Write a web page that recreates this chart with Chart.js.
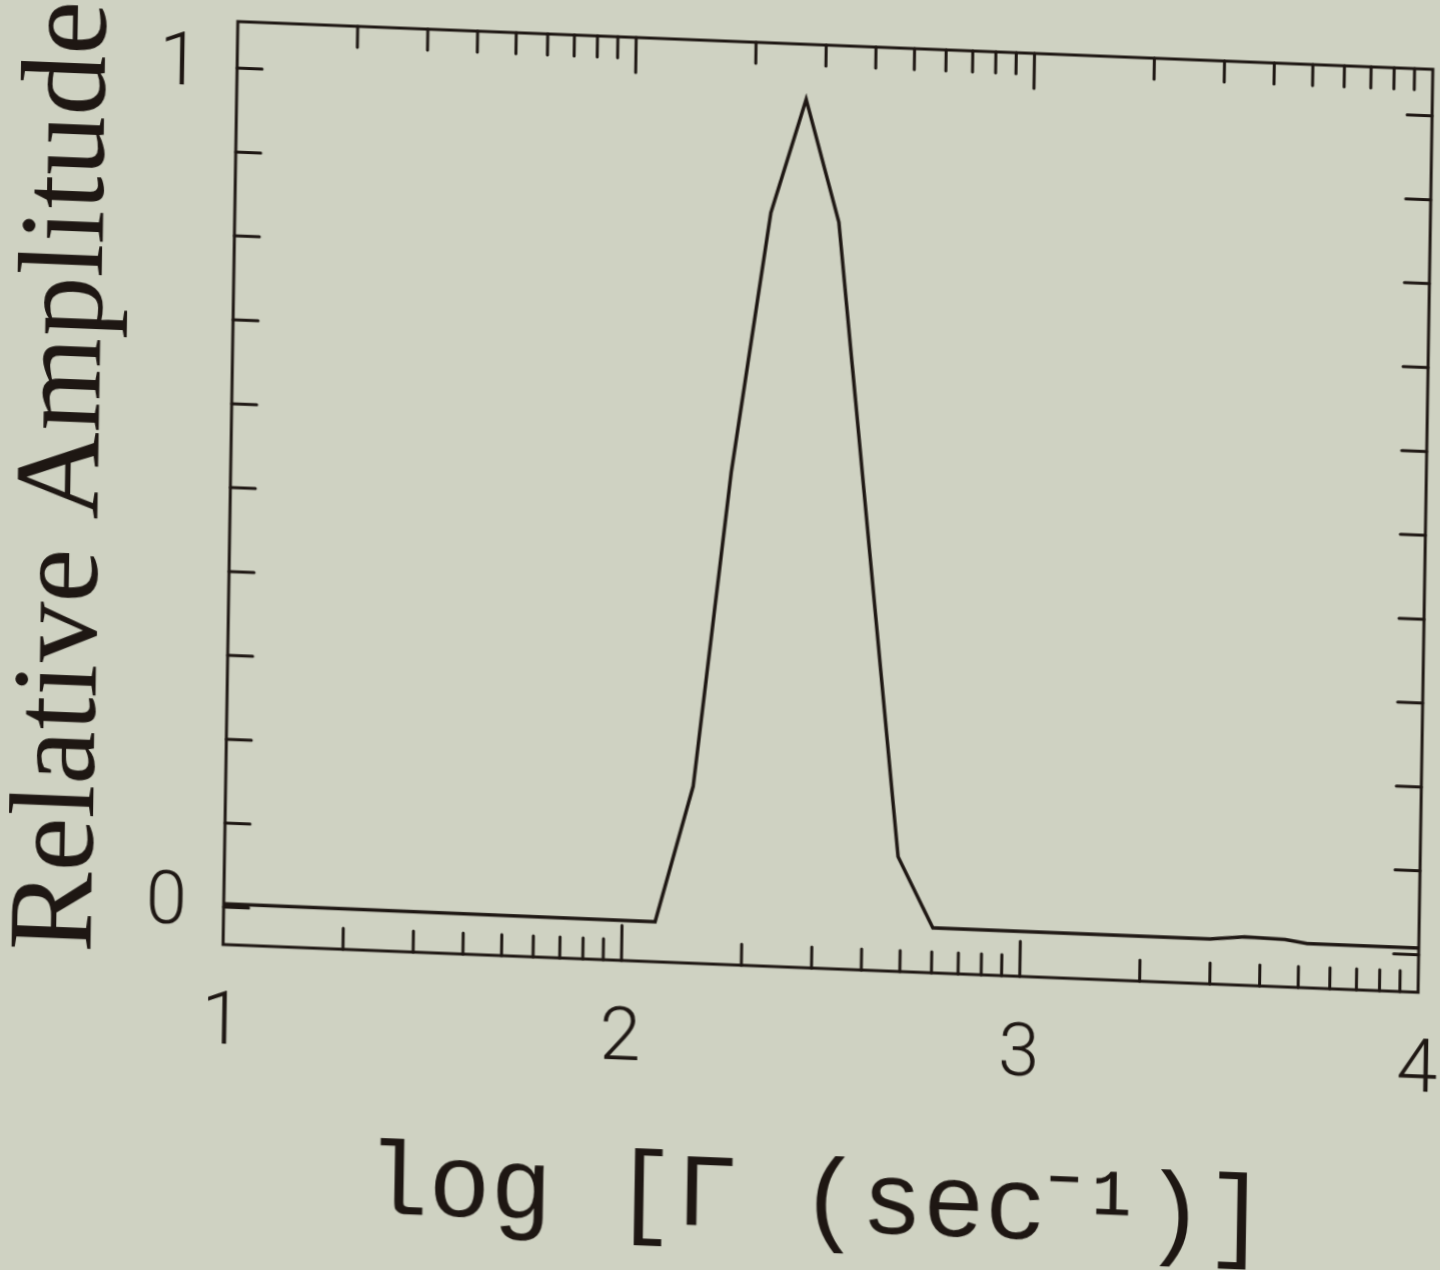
<!DOCTYPE html>
<html>
<head>
<meta charset="utf-8">
<script src="https://cdn.jsdelivr.net/npm/chart.js@4.4.1/dist/chart.umd.min.js"></script>
<style>
    html, body { margin: 0; padding: 0; width: 1440px; height: 1270px; overflow: hidden; background: #cfd2c2; }
    /* the scanned figure is slightly skewed, so tilt the whole canvas a little */
    #wrap { position: absolute; left: 0; top: 0; width: 1480px; height: 1270px;
            transform-origin: 0 0; transform: matrix(1, 0.04, -0.016, 1, 0, 0); }
</style>
</head>
<body>
<div id="wrap"><canvas id="myChart" width="1480" height="1270"></canvas></div>
<script>
const INK = '#1e1713';

// data
const logGamma  = [1.0,   2.083, 2.173, 2.256, 2.345, 2.429, 2.516, 2.690, 2.780, 3.476, 3.562, 3.664, 3.720, 4.0];
const amplitude = [0.004, 0.003, 0.166, 0.542, 0.853, 0.990, 0.845, 0.092, 0.009, 0.009, 0.013, 0.012, 0.008, 0.008];

// axes
const xMajorTicks = [1, 2, 3, 4];
const xMinorMultipliers = [2, 3, 4, 5, 6, 7, 8, 9];
const yTickValues = [0, 0.1, 0.2, 0.3, 0.4, 0.5, 0.6, 0.7, 0.8, 0.9, 1];
const yTickLabels = { 0: '0', 1: '1' };

const xMinorTicks = [];
[1, 2, 3].forEach(d => xMinorMultipliers.forEach(k => xMinorTicks.push(d + Math.log10(k))));

// frame + inward tick marks on all four sides
const frameTicks = {
    id: 'frameTicks',
    afterDatasetsDraw(chart) {
        const { ctx, chartArea: a, scales: { x, y } } = chart;
        ctx.save();
        ctx.strokeStyle = INK;
        ctx.lineWidth = 3;
        ctx.lineCap = 'round';
        ctx.strokeRect(a.left, a.top, a.right - a.left, a.bottom - a.top);
        ctx.beginPath();
        xMinorTicks.forEach(v => {
            const px = x.getPixelForValue(v);
            ctx.moveTo(px, a.bottom); ctx.lineTo(px, a.bottom - 21);
            ctx.moveTo(px, a.top);    ctx.lineTo(px, a.top + 21);
        });
        xMajorTicks.slice(1, -1).forEach(v => {
            const px = x.getPixelForValue(v);
            ctx.moveTo(px, a.bottom); ctx.lineTo(px, a.bottom - 35);
            ctx.moveTo(px, a.top);    ctx.lineTo(px, a.top + 35);
        });
        yTickValues.forEach(v => {
            const py = y.getPixelForValue(v);
            ctx.moveTo(a.left, py);  ctx.lineTo(a.left + 25, py);
            ctx.moveTo(a.right, py); ctx.lineTo(a.right - 25, py);
        });
        ctx.stroke();
        ctx.restore();
    }
};

const ctx = document.getElementById('myChart').getContext('2d');
const myChart = new Chart(ctx, {
    type: 'line',
    data: {
        datasets: [{
            data: logGamma.map((g, i) => ({ x: g, y: amplitude[i] })),
            borderColor: INK,
            borderWidth: 3.5,
            pointRadius: 0,
            tension: 0,
            fill: false
        }]
    },
    options: {
        responsive: false,
        animation: false,
        devicePixelRatio: 1,
        layout: { padding: { left: 0, top: 12, right: 47, bottom: 0 } },
        plugins: {
            legend: { display: false },
            tooltip: { enabled: false }
        },
        scales: {
            x: {
                type: 'linear',
                min: 1,
                max: 4,
                grid: { display: false, drawTicks: false },
                border: { display: false },
                afterBuildTicks: s => { s.ticks = xMajorTicks.map(v => ({ value: v })); },
                afterFit: s => { s.height = 335; s.paddingLeft = 0; s.paddingRight = 0; },
                ticks: {
                    padding: 36,
                    maxRotation: 0,
                    autoSkip: false,
                    color: INK,
                    font: { family: 'Roboto', size: 74, weight: '300' },
                    callback: v => String(v)
                },
                title: {
                    display: true,
                    text: 'log [Γ (sec⁻¹)]',
                    color: INK,
                    font: { family: 'Liberation Mono', size: 103, lineHeight: 1 },
                    padding: { top: 0, bottom: 49 }
                }
            },
            y: {
                type: 'linear',
                min: -0.0447,
                max: 1.0555,
                grid: { display: false, drawTicks: false },
                border: { display: false },
                afterBuildTicks: s => { s.ticks = yTickValues.map(v => ({ value: v })); },
                afterFit: s => { s.width = 238; s.paddingTop = 0; s.paddingBottom = 0; },
                ticks: {
                    padding: 37,
                    autoSkip: false,
                    color: INK,
                    font: { family: 'Roboto', size: 74, weight: '300' },
                    callback: v => yTickLabels[v] || ''
                },
                title: {
                    display: true,
                    text: 'Relative Amplitude',
                    color: INK,
                    font: { family: 'Liberation Serif', size: 121, lineHeight: 1 },
                    padding: { top: 14, bottom: 0 }
                }
            }
        }
    },
    plugins: [frameTicks]
});
</script>
</body>
</html>
